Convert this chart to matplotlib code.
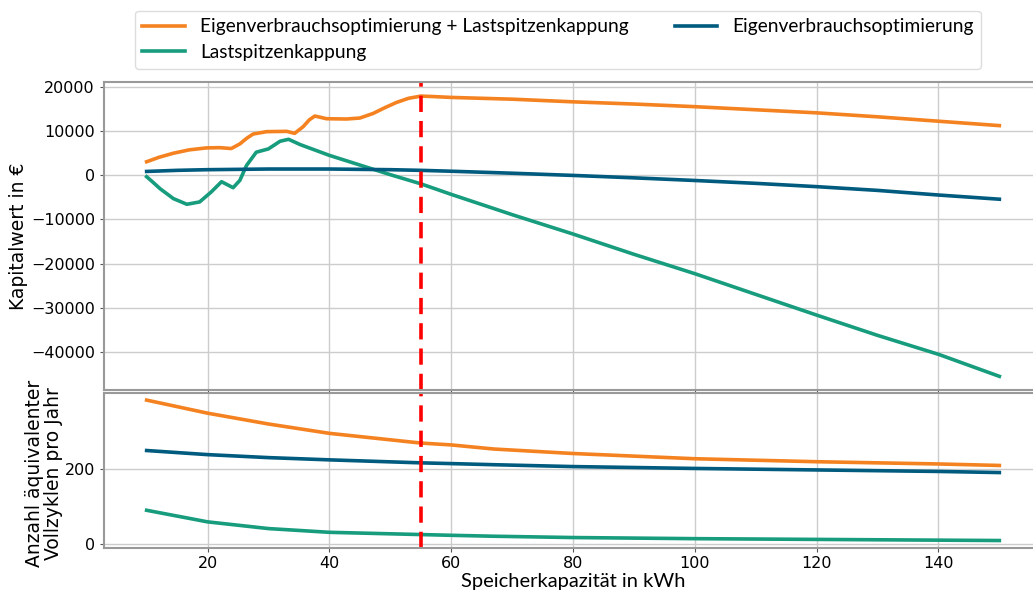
import matplotlib
matplotlib.use('Agg')
import matplotlib.pyplot as plt

# Kapitalwert (top panel)
x_both = [10, 12, 14.4, 17, 19.8, 22, 23.9, 25.3, 26.5, 27.5, 29.7, 33, 34.3, 35.7, 36.7, 37.6,
          38.5, 39.5, 42.8, 45, 47.2, 49, 51, 53, 55, 57, 60, 70, 80, 90, 100, 110, 120, 130, 140, 150]
npv_both = [3100, 4100, 5040, 5800, 6240, 6300, 6100, 7150, 8500, 9400, 9930, 10000, 9550, 11060, 12600, 13470,
            13200, 12870, 12800, 13020, 14070, 15300, 16550, 17500, 18000, 17900, 17700, 17300, 16700, 16200,
            15600, 14900, 14200, 13300, 12300, 11300]

x_peak = [10, 11, 12.2, 14.4, 16.6, 18.7, 20.6, 22.3, 24.2, 25.3, 26.4, 28, 30, 31.9, 33.3, 35.2,
          40, 45, 50, 55, 60, 70, 80, 90, 100, 110, 120, 130, 140, 150]
npv_peak = [-300, -1500, -3010, -5270, -6550, -6020, -3760, -1430, -2790, -1130, 2260, 5270, 6020, 7750, 8200, 7000,
            4550, 2360, 170, -1900, -4300, -8900, -13300, -17900, -22300, -27000, -31700, -36300, -40600, -45600]

x_self = [10, 15, 20, 30, 40, 50, 55, 60, 70, 80, 90, 100, 110, 120, 130, 140, 150]
npv_self = [900, 1150, 1300, 1450, 1450, 1300, 1150, 950, 500, 0, -550, -1150, -1800, -2550, -3400, -4450, -5400]

# Vollzyklen pro Jahr (bottom panel)
x_cyc = [10, 20, 30, 40, 55, 60, 67, 80, 100, 120, 140, 150]
cyc_both = [384, 349, 320, 295, 269, 264, 253, 241, 227, 219, 213, 209]
cyc_self = [249, 238, 230, 224, 216, 214, 211, 206, 201, 197, 193, 190]
cyc_peak = [89, 58, 40, 30, 24, 22, 19.5, 16, 13, 11, 9, 8]

chosen_capacity = 55

c_orange = '#F58220'
c_green = '#179C7D'
c_blue = '#005B7F'

W, H = 1033, 592
fig = plt.figure(figsize=(W / 100, H / 100), dpi=100)
ax1 = fig.add_axes([104 / W, (H - 390) / H, 938 / W, 308 / H])
ax2 = fig.add_axes([104 / W, (H - 548) / H, 938 / W, 155 / H], sharex=ax1)

lw = 2.6
ax1.plot(x_both, npv_both, color=c_orange, lw=lw, label='Eigenverbrauchsoptimierung + Lastspitzenkappung')
ax1.plot(x_peak, npv_peak, color=c_green, lw=lw, label='Lastspitzenkappung')
ax1.plot(x_self, npv_self, color=c_blue, lw=lw, label='Eigenverbrauchsoptimierung')

ax2.plot(x_cyc, cyc_both, color=c_orange, lw=lw)
ax2.plot(x_cyc, cyc_peak, color=c_green, lw=lw)
ax2.plot(x_cyc, cyc_self, color=c_blue, lw=lw)

for ax in (ax1, ax2):
    ax.axvline(chosen_capacity, color='red', ls=(0, (4.5, 2.5)), lw=2.6)
    ax.grid(True, color='#cccccc', lw=1)
    ax.set_axisbelow(True)
    for s in ax.spines.values():
        s.set_color('#999999')
        s.set_linewidth(1.5)
    ax.tick_params(labelsize=11.5, color='#555555', length=3)

ax1.set_xlim(3, 157)
ax1.set_ylim(-48700, 21200)
ax1.set_yticks([-40000, -30000, -20000, -10000, 0, 10000, 20000])
ax1.tick_params(labelbottom=False)
ax2.set_ylim(-12, 403)
ax2.set_yticks([0, 200])
ax2.set_xticks([20, 40, 60, 80, 100, 120, 140])
ax2.tick_params(axis='x', pad=2.5)

ax1.set_ylabel('Kapitalwert in €', fontsize=13.5)
ax1.yaxis.set_label_coords(-0.081, 0.5)
ax2.set_ylabel('Anzahl äquivalenter\nVollzyklen pro Jahr', fontsize=13.5, linespacing=1.0)
ax2.yaxis.set_label_coords(-0.044, 0.48)
ax2.set_xlabel('Speicherkapazität in kWh', fontsize=14.5, family=['Lato', 'DejaVu Sans'], labelpad=1.5)

leg = fig.legend(loc='upper center', bbox_to_anchor=(558 / W, 1 - 1 / H), ncol=2,
                 prop={'family': ['Lato', 'DejaVu Sans'], 'size': 13.8},
                 handlelength=2.2, columnspacing=2.4, labelspacing=0.45,
                 framealpha=1, edgecolor='#dddddd')

fig.savefig('out.png', dpi=100)
